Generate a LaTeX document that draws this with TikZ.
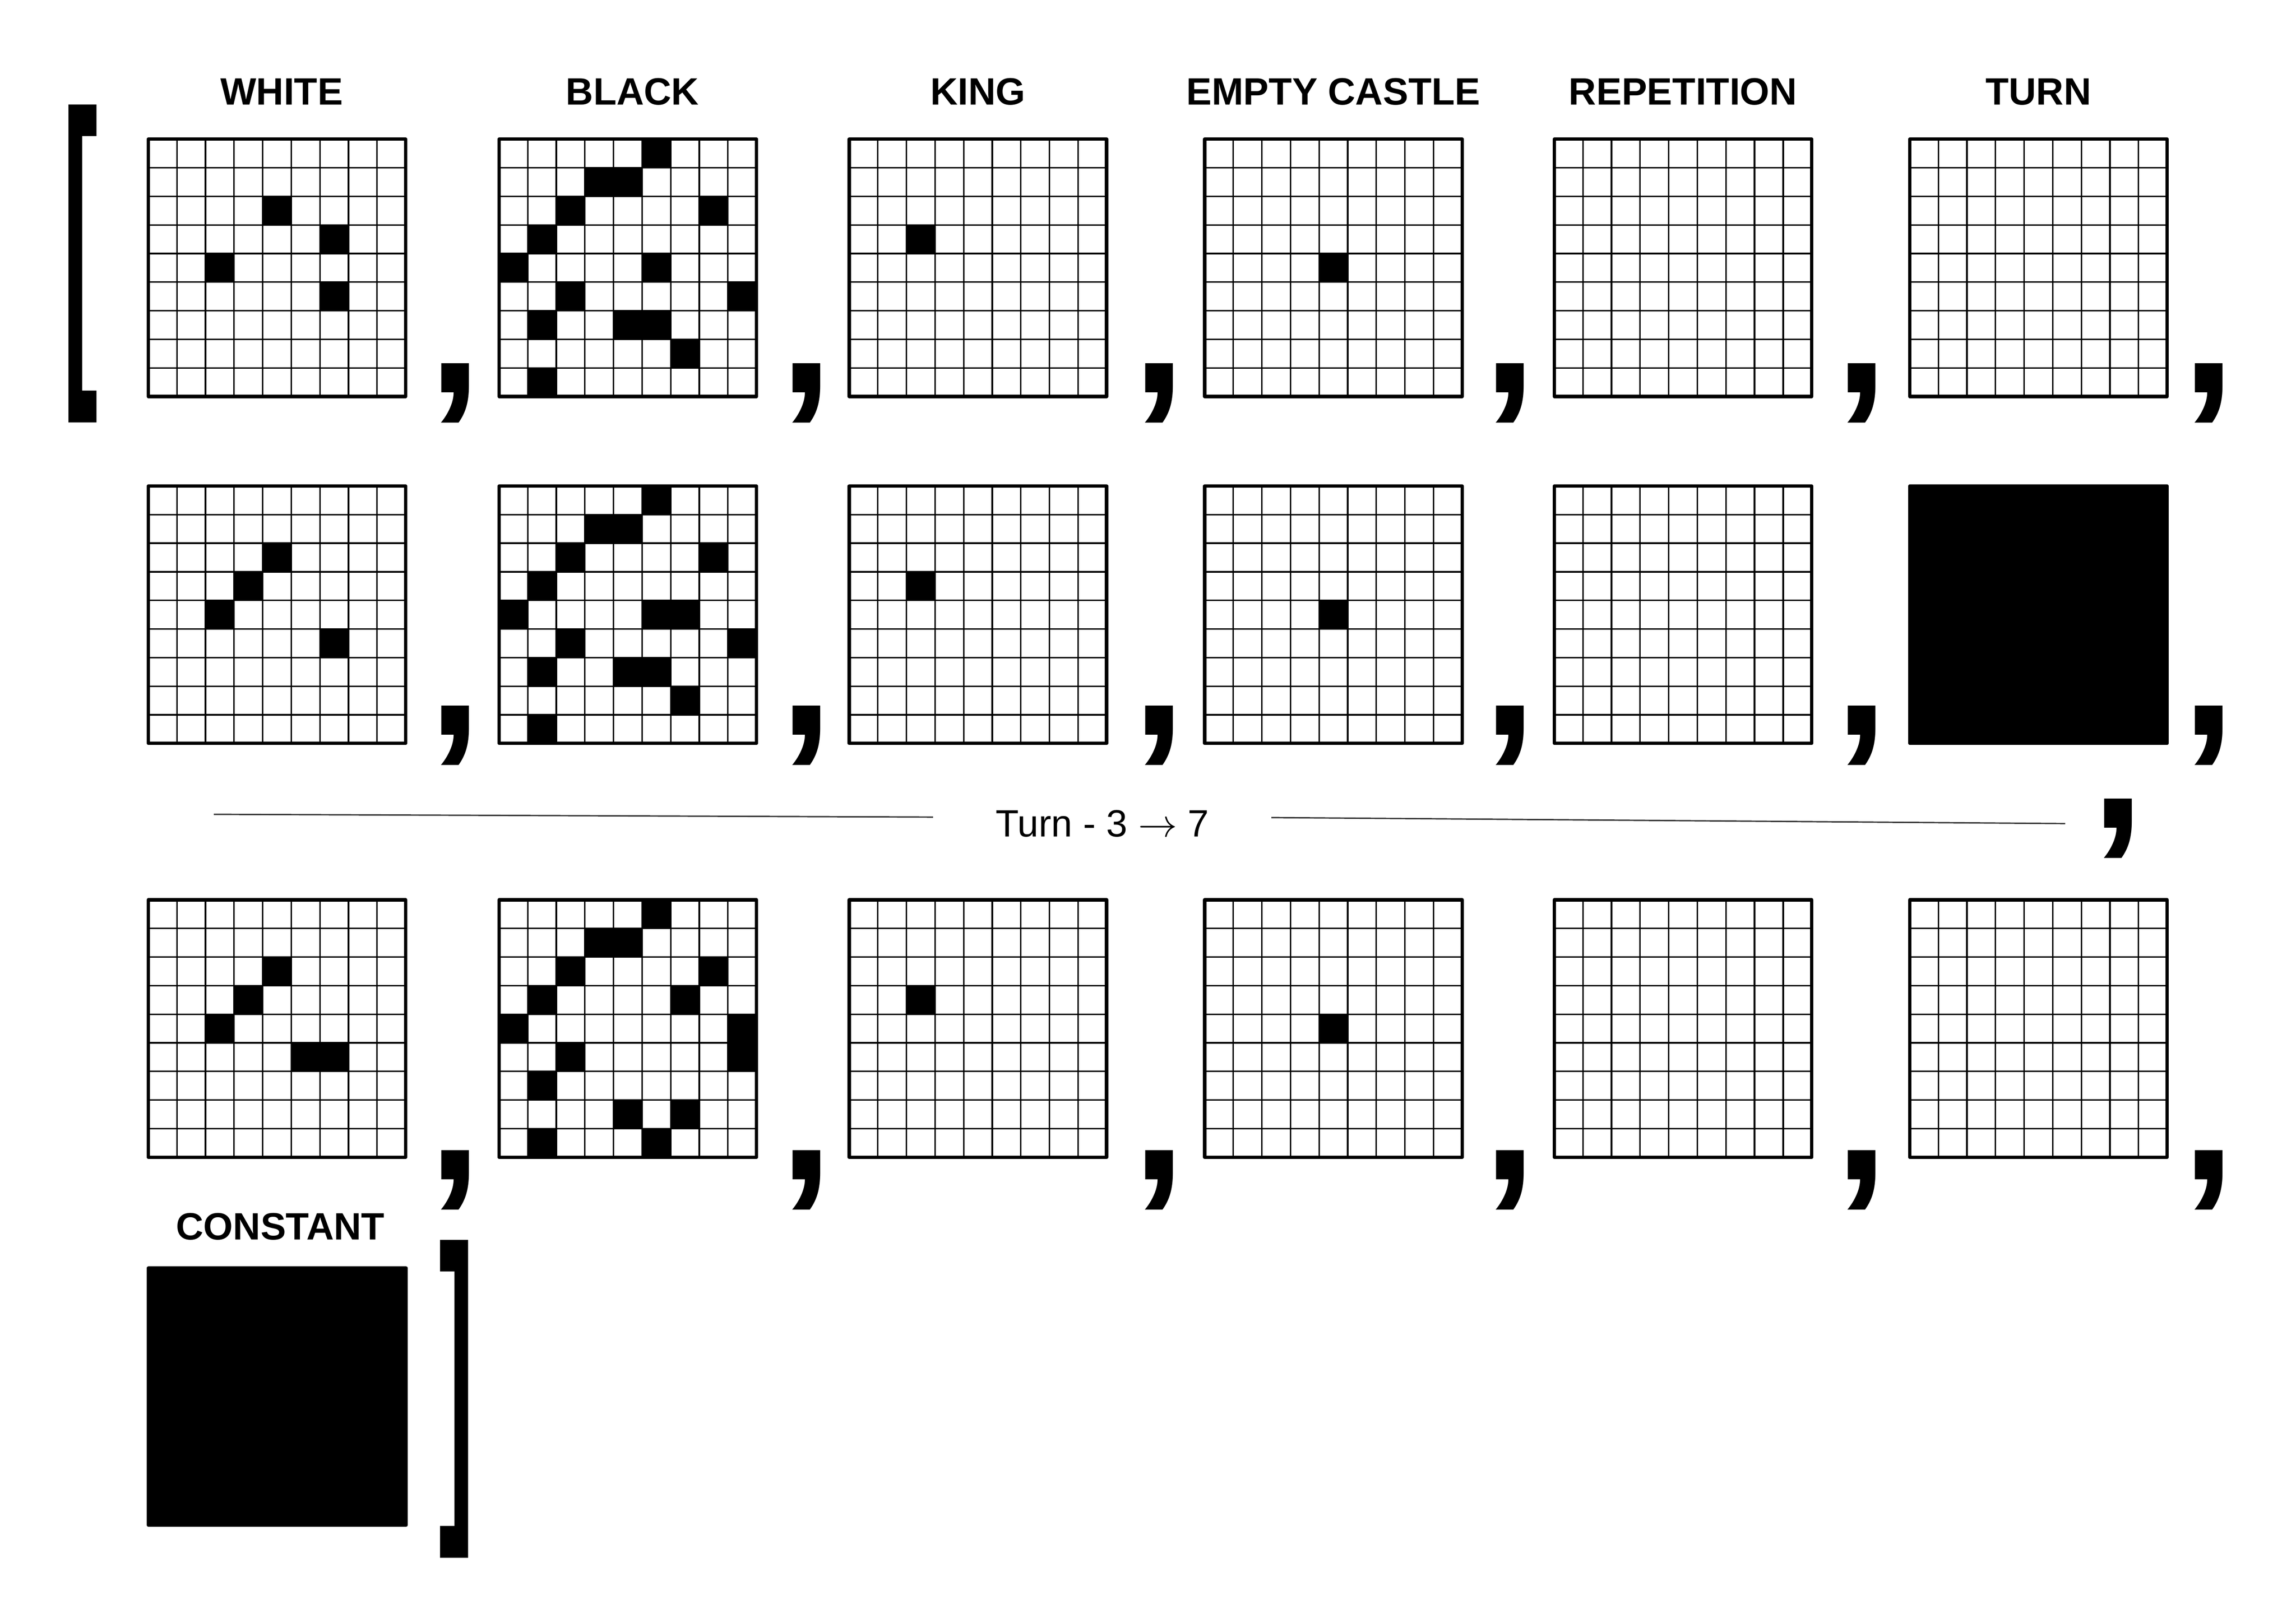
\documentclass[tikz,border=0pt]{standalone}
\usepackage{fontspec}
\setmainfont{Liberation Sans}
\usepackage{graphicx}
\usetikzlibrary{positioning}

\newcommand{\cellsize}{3.7}
\tikzset{
	boardframe/.style={draw, rectangle, line width=1.25pt, line join=round, inner sep=0pt, outer sep=0pt, minimum size=33.3mm},
	gridline/.style={line width=0.55pt},
	heading/.style={inner sep=0pt, font=\fontsize{14}{14}\selectfont\bfseries},
	bigcomma/.style={anchor=base west, inner sep=0pt, font=\fontsize{72}{72}\selectfont\bfseries},
	sqbracket/.style={inner sep=0pt, font=\fontsize{39}{39}\selectfont\bfseries},
	turnline/.style={line width=0.5pt, black!80},
	turnlabel/.style={anchor=base, inner sep=0pt, font=\fontsize{14}{14}\selectfont}
}

% empty 9x9 board centred at #2
\newcommand{\chessboard}[2]{%
	\node[boardframe] (#1) at (#2) {};
	\begin{scope}[shift={(#1.north west)}]
		\foreach \i in {1,...,8} {
			\draw[gridline] (\i*\cellsize,0) -- ++(0,9*\cellsize);
			\draw[gridline] (0,\i*\cellsize) -- ++(9*\cellsize,0);
		}
	\end{scope}
}
% black squares of board #1 as column/row, counted from the top left
\newcommand{\blackcells}[2]{%
	\begin{scope}[shift={(#1.north west)}]
		\foreach \cx/\ry in {#2}
			\fill (\cx*\cellsize,\ry*\cellsize) rectangle ++(\cellsize,\cellsize);
	\end{scope}
}

\begin{document}
\begin{tikzpicture}[x=1mm, y=-1mm]
	\useasboundingbox (0,0) rectangle (297,210);

	% first position
	\chessboard{w1}{35.83,34.66}
	\chessboard{b1}{81.21,34.66}
	\chessboard{k1}{126.50,34.66}
	\chessboard{e1}{172.48,34.66}
	\chessboard{p1}{217.71,34.66}
	\chessboard{t1}{263.68,34.66}
	\blackcells{w1}{4/2, 6/3, 2/4, 6/5}
	\blackcells{b1}{5/0, 3/1, 4/1, 2/2, 7/2, 1/3, 0/4, 5/4, 2/5, 8/5, 1/6, 4/6, 5/6, 6/7, 1/8}
	\blackcells{k1}{2/3}
	\blackcells{e1}{4/4}

	\node[heading, above=4.43mm of w1.north, anchor=base, xshift=0.6mm] (hw) {WHITE};
	\node[heading, above=4.43mm of b1.north, anchor=base, xshift=0.6mm] (hb) {BLACK};
	\node[heading, above=4.43mm of k1.north, anchor=base] (hk) {KING};
	\node[heading, above=4.43mm of e1.north, anchor=base] (he) {EMPTY CASTLE};
	\node[heading, above=4.43mm of p1.north, anchor=base] (hp) {REPETITION};
	\node[heading, above=4.43mm of t1.north, anchor=base] (ht) {TURN};

	% second position
	\chessboard{w2}{35.83,79.54}
	\chessboard{b2}{81.21,79.54}
	\chessboard{k2}{126.50,79.54}
	\chessboard{e2}{172.48,79.54}
	\chessboard{p2}{217.71,79.54}
	\node[boardframe, fill=black] (t2) at (263.68,79.54) {};
	\blackcells{w2}{4/2, 3/3, 2/4, 6/5}
	\blackcells{b2}{5/0, 3/1, 4/1, 2/2, 7/2, 1/3, 0/4, 5/4, 6/4, 2/5, 8/5, 1/6, 4/6, 5/6, 6/7, 1/8}
	\blackcells{k2}{2/3}
	\blackcells{e2}{4/4}

	% skipped turns
	\node[turnlabel] (turn) at (142.6,108.24) {Turn - 3 $\rightarrow$ 7};
	\coordinate (ll) at (27.66,105.37);
	\coordinate (lr) at (120.70,105.73);
	\coordinate (rl) at (164.46,105.79);
	\coordinate (rr) at (267.14,106.57);
	\draw[turnline] (ll) -- (lr);
	\draw[turnline] (rl) -- (rr);

	% last position
	\chessboard{w3}{35.83,133.09}
	\chessboard{b3}{81.21,133.09}
	\chessboard{k3}{126.50,133.09}
	\chessboard{e3}{172.48,133.09}
	\chessboard{p3}{217.71,133.09}
	\chessboard{t3}{263.68,133.09}
	\blackcells{w3}{4/2, 3/3, 2/4, 5/5, 6/5}
	\blackcells{b3}{5/0, 3/1, 4/1, 2/2, 7/2, 1/3, 6/3, 0/4, 8/4, 2/5, 8/5, 1/6, 4/7, 6/7, 1/8, 5/8}
	\blackcells{k3}{2/3}
	\blackcells{e3}{4/4}

	\node[boardframe, fill=black] (cst) at (35.86,180.72) {};
	\node[heading, above=3.65mm of cst.north, anchor=base, xshift=0.4mm] (hc) {CONSTANT};

	% separators
	\foreach \x [count=\i] in {55.27, 100.71, 146.33, 191.73, 237.23, 282.13} {
		\node[bigcomma] (ca\i) at (\x,50.78) {,};
		\node[bigcomma] (cb\i) at (\x,95.08) {,};
		\node[bigcomma] (cc\i) at (\x,152.62) {,};
	}
	\node[bigcomma] (cturn) at (270.38,107.11) {,};

	\node[sqbracket] (lbr) at (10.42,34.13) {\scalebox{1}[3.22]{[}};
	\node[sqbracket] (rbr) at (59.07,181.05) {\scalebox{1}[3.22]{]}};
\end{tikzpicture}
\end{document}
